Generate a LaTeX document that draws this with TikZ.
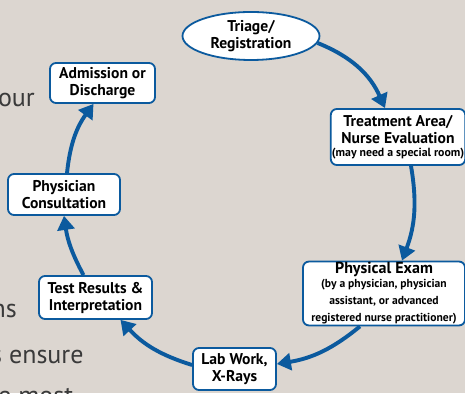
\documentclass[tikz,border=0pt]{standalone}
\usepackage{fontspec}
\setmainfont{PT Sans}
\usetikzlibrary{arrows.meta,shapes.geometric}
\definecolor{pageback}{HTML}{DCD6D0}
\definecolor{flowblue}{HTML}{0B5A9E}
\definecolor{pagetext}{HTML}{3A3A3A}

\begin{document}
\begin{tikzpicture}[x=1pt,y=1pt,
    box/.style={draw=flowblue,line width=1.8pt,fill=white,rounded corners=6pt,
      align=center,inner sep=1pt,font=\bfseries\fontsize{15.6}{17}\selectfont},
    flow/.style={draw=flowblue,line width=3.9pt,-{Triangle[length=14pt,width=17pt]}},
    side/.style={text=pagetext,font=\fontsize{26}{30}\selectfont,inner sep=0pt}]
  % Background
  \fill[pageback] (0,0) rectangle (465,393);
  \useasboundingbox (0,0) rectangle (465,393);
  % Page text
  \node[side,anchor=base east] (t1) at (35,286) {our};
  \node[side,anchor=base east] (t2) at (17,75) {ns};
  \node[side,anchor=base west] (t3) at (-9,30) {s ensure};
  \node[side,anchor=base west] (t4) at (-2,-11) {e most};
  % Steps
  \node[box,ellipse,rounded corners=0pt,minimum width=137pt,minimum height=48pt,inner sep=0pt]
    (triage) at (251,357) {Triage/\\Registration};
  \node[box,minimum width=134pt,minimum height=56pt] (treat) at (398,256)
    {Treatment Area/\\Nurse Evaluation\\[-4pt]{\fontsize{11.8}{13}\selectfont(may need a special room)}};
  \node[box,minimum width=162pt,minimum height=63pt] (exam) at (384,99.5)
    {{\fontsize{16}{17}\selectfont Physical Exam}\\[-3pt]
     \fontsize{11.6}{12.5}\selectfont(by a physician, physician\\
     \fontsize{11.6}{12.5}\selectfont assistant, or advanced\\
     \fontsize{11.6}{12.5}\selectfont registered nurse practitioner)};
  \node[box,minimum width=83pt,minimum height=42pt] (lab) at (234.5,24) {Lab Work,\\X-Rays};
  \node[box,minimum width=113pt,minimum height=43pt] (test) at (95.5,95.5)
    {Test Results \&\\Interpretation};
  \node[box,minimum width=112pt,minimum height=41pt] (consult) at (64,198.5)
    {Physician\\Consultation};
  \node[box,minimum width=105pt,minimum height=40pt] (admit) at (102.5,310)
    {Admission or\\Discharge};
  % Arrows
  \draw[flow] (triage.-6) to[bend left=22] ([xshift=-13pt]treat.north);
  \draw[flow] ([xshift=13pt]treat.south) to[bend left=15] ([xshift=18pt]exam.north);
  \draw[flow] ([xshift=-24pt]exam.south) to[bend left=15] ([yshift=5pt]lab.east);
  \draw[flow] ([yshift=4pt]lab.west) to[bend left=15] ([xshift=25pt]test.south);
  \draw[flow] ([xshift=-12pt]test.north) to[bend left=10] (consult.south);
  \draw[flow] ([xshift=3pt]consult.north) to[bend left=15] ([xshift=-9pt]admit.south);
\end{tikzpicture}
\end{document}
